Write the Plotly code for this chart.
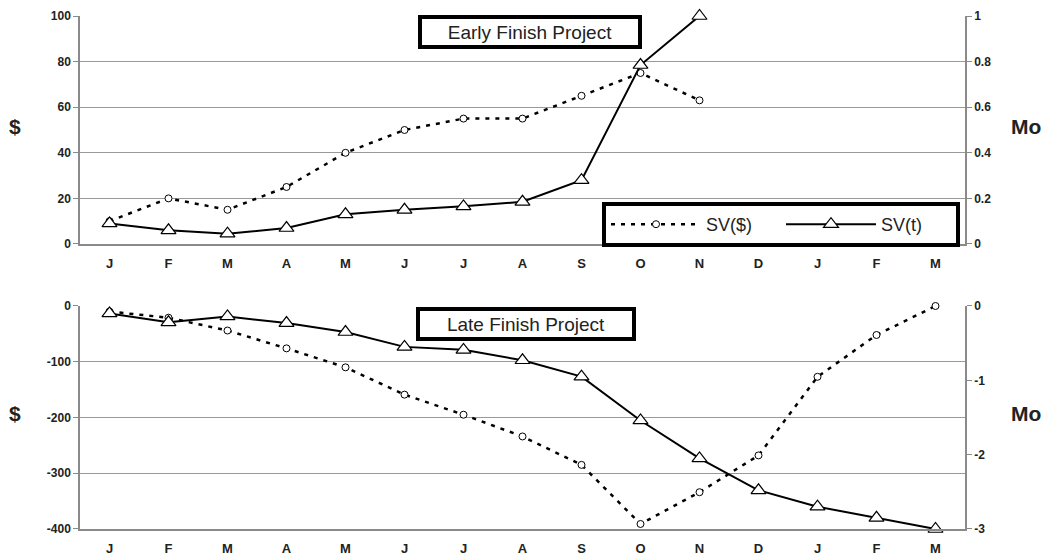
import plotly.graph_objects as go

months = ["J", "F", "M", "A", "M", "J", "J", "A", "S", "O", "N", "D", "J", "F", "M"]

# Early finish project
early_sv_dollar = [10, 20, 15, 25, 40, 50, 55, 55, 65, 75, 63]
early_sv_t = [0.09, 0.06, 0.045, 0.07, 0.13, 0.15, 0.165, 0.185, 0.28, 0.785, 1.0]

# Late finish project
late_sv_dollar = [-10, -21, -44, -76, -110, -159, -195, -234, -285, -391, -334, -268, -127, -52, 0]
late_sv_t = [-0.1, -0.22, -0.14, -0.23, -0.35, -0.55, -0.59, -0.73, -0.95, -1.54, -2.05, -2.48, -2.7, -2.85, -3.0]

xi = list(range(len(months)))

fig = go.Figure()

dash_line = dict(color="black", width=2.5, dash="4px,6px")
solid_line = dict(color="black", width=2)
circ = dict(symbol="circle", size=7, color="white", line=dict(width=1, color="black"))
tri = dict(symbol="triangle-up", size=13, color="white", line=dict(width=1.2, color="black"))

fig.add_trace(go.Scatter(x=xi[:len(early_sv_dollar)], y=early_sv_dollar, mode="lines+markers", cliponaxis=False,
                         name="SV($)", line=dash_line, marker=circ, xaxis="x", yaxis="y"))
fig.add_trace(go.Scatter(x=xi[:len(early_sv_t)], y=early_sv_t, mode="lines+markers", cliponaxis=False,
                         name="SV(t)", line=solid_line, marker=tri, xaxis="x", yaxis="y2"))
fig.add_trace(go.Scatter(x=xi, y=late_sv_dollar, mode="lines+markers", showlegend=False, cliponaxis=False,
                         line=dash_line, marker=circ, xaxis="x2", yaxis="y3"))
fig.add_trace(go.Scatter(x=xi, y=late_sv_t, mode="lines+markers", showlegend=False, cliponaxis=False,
                         line=solid_line, marker=tri, xaxis="x2", yaxis="y4"))

tickfont = dict(family="Liberation Sans, Arial", size=12, color="#222", weight="bold")
axcol = "#8a8a8a"

xcommon = dict(range=[-0.5, 14.5], tickvals=xi, ticktext=months,
               tickfont=dict(family="Liberation Sans, Arial", size=13, color="#222", weight="bold"),
               showgrid=False, zeroline=False, showline=True, linecolor=axcol, linewidth=1.5, ticks="",
               ticklabelstandoff=7)

fig.update_layout(
    width=1059, height=560,
    margin=dict(l=80, r=94, t=16, b=31, autoexpand=False),
    paper_bgcolor="white", plot_bgcolor="white",
    xaxis=dict(domain=[0, 1], anchor="y", **xcommon),
    xaxis2=dict(domain=[0, 1], anchor="y3", **xcommon),
    yaxis=dict(domain=[0.5556, 1.0], range=[0, 100], tickvals=[0, 20, 40, 60, 80, 100],
               showgrid=True, gridcolor="#999", gridwidth=1.2, zeroline=False,
               showline=True, linecolor=axcol, linewidth=1.5, ticks="outside", ticklen=5, tickcolor=axcol,
               tickfont=tickfont, anchor="x"),
    yaxis2=dict(overlaying="y", side="right", range=[0, 1], tickvals=[0, 0.2, 0.4, 0.6, 0.8, 1],
                ticktext=["0", "0.2", "0.4", "0.6", "0.8", "1"],
                showgrid=False, zeroline=False, showline=True, linecolor=axcol, linewidth=1.5,
                ticks="outside", ticklen=5, tickcolor=axcol, tickfont=tickfont, anchor="x"),
    yaxis3=dict(domain=[0, 0.4347], range=[-400, 0], tickvals=[-400, -300, -200, -100, 0],
                ticktext=["-400", "-300", "-200", "-100", "0"],
                showgrid=True, gridcolor="#999", gridwidth=1.2, zeroline=False,
                showline=True, linecolor=axcol, linewidth=1.5, ticks="outside", ticklen=5, tickcolor=axcol,
                tickfont=tickfont, anchor="x2"),
    yaxis4=dict(overlaying="y3", side="right", range=[-3, 0], tickvals=[-3, -2, -1, 0],
                ticktext=["-3", "-2", "-1", "0"],
                showgrid=False, zeroline=False, showline=True, linecolor=axcol, linewidth=1.5,
                ticks="outside", ticklen=5, tickcolor=axcol, tickfont=tickfont, anchor="x2"),
    legend=dict(orientation="h", x=(960 - 80) / 885, xanchor="right", y=(529 - 224.5) / 513, yanchor="middle",
                bgcolor="white", bordercolor="black", borderwidth=4,
                font=dict(family="Liberation Sans, Arial", size=18, color="#222"),
                entrywidth=70, itemwidth=90),
    showlegend=True,
)

boxfont = dict(family="Liberation Sans, Arial", size=19, color="#222")
fig.add_annotation(text="Early Finish Project", xref="paper", yref="paper", x=(529.5 - 80) / 885, y=(529 - 32) / 513,
                   showarrow=False, font=boxfont, bgcolor="white", bordercolor="black", borderwidth=4, borderpad=0,
                   width=216, height=26, xanchor="center", yanchor="middle")
fig.add_annotation(text="Late Finish Project", xref="paper", yref="paper", x=(525.5 - 80) / 885, y=(529 - 324) / 513,
                   showarrow=False, font=boxfont, bgcolor="white", bordercolor="black", borderwidth=4, borderpad=0,
                   width=212, height=26, xanchor="center", yanchor="middle")

titlefont = dict(family="Liberation Sans, Arial", size=21, color="#222", weight="bold")
for yy in [(529 - 113) / 513, (529 - 427) / 513]:
    fig.add_annotation(text="$", xref="paper", yref="paper", x=0, y=yy, xanchor="right", xshift=-57,
                       showarrow=False, font=titlefont)
    fig.add_annotation(text="Mo", xref="paper", yref="paper", x=1, y=yy, xanchor="left", xshift=44,
                       showarrow=False, font=titlefont)

fig.write_html("out.html", config={"displayModeBar": False},
               post_script="document.body.style.margin='0';document.body.style.overflow='hidden';")
